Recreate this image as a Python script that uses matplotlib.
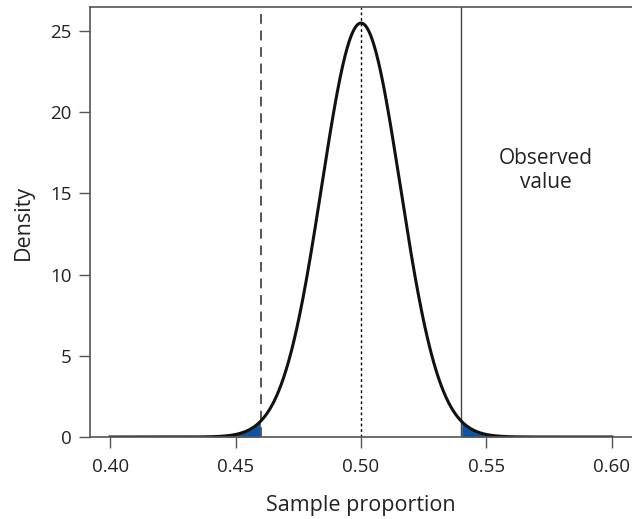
import matplotlib
matplotlib.use("Agg")
import matplotlib.pyplot as plt
import numpy as np

# Sampling distribution of the proportion
null_mean = 0.50
null_sd = 0.01565
lower_cut = 0.46
observed = 0.54
x_range = [0.40, 0.60]

x_ticks = [0.40, 0.45, 0.50, 0.55, 0.60]
x_tick_labels = ["0.40", "0.45", "0.50", "0.55", "0.60"]
y_ticks = [0, 5, 10, 15, 20, 25]

plt.rcParams['font.family'] = ['Open Sans', 'DejaVu Sans']

x = np.linspace(x_range[0], x_range[1], 1000)
dens = np.exp(-0.5 * ((x - null_mean) / null_sd) ** 2) / (null_sd * np.sqrt(2 * np.pi))

fig = plt.figure(figsize=(6.32, 5.19), dpi=100)
ax = fig.add_axes([90 / 632, 82 / 519, 1 - 90 / 632, 430 / 519])

# shaded tails
lo = x <= lower_cut
hi = x >= observed
ax.fill_between(x[lo], 0, dens[lo], color='#0a55a5', lw=0)
ax.fill_between(x[hi], 0, dens[hi], color='#0a55a5', lw=0)

ax.axvline(lower_cut, color='#555555', lw=1.4, ls=(0, (5, 3.5)))
ax.axvline(null_mean, color='black', lw=1.0, ls=(0, (2, 2)))
ax.axvline(observed, color='#444444', lw=1.0)

ax.plot(x, dens, color='#111111', lw=2.2)

ax.text(0.5735, 16.4, "Observed\nvalue", ha='center', va='center',
        fontsize=15, linespacing=1.2, color='#222222')

ax.set_xlim(0.392, 0.608)
ax.set_ylim(0, 26.48)
ax.set_xticks(x_ticks)
ax.set_xticklabels(x_tick_labels)
ax.set_yticks(y_ticks)
ax.tick_params(axis='both', labelsize=13.5, length=8, width=1.0,
               color='#555555', labelcolor='#222222', pad=5)
ax.tick_params(axis='x', pad=7)

for s in ['left', 'top', 'bottom']:
    ax.spines[s].set_color('#555555')
    ax.spines[s].set_linewidth(1.2)
ax.spines['right'].set_visible(False)

ax.set_xlabel("Sample proportion", fontsize=15.5, labelpad=14, color='#222222')
ax.set_ylabel("Density", fontsize=15.5, labelpad=12, color='#222222')

plt.savefig("out.png", dpi=100)
